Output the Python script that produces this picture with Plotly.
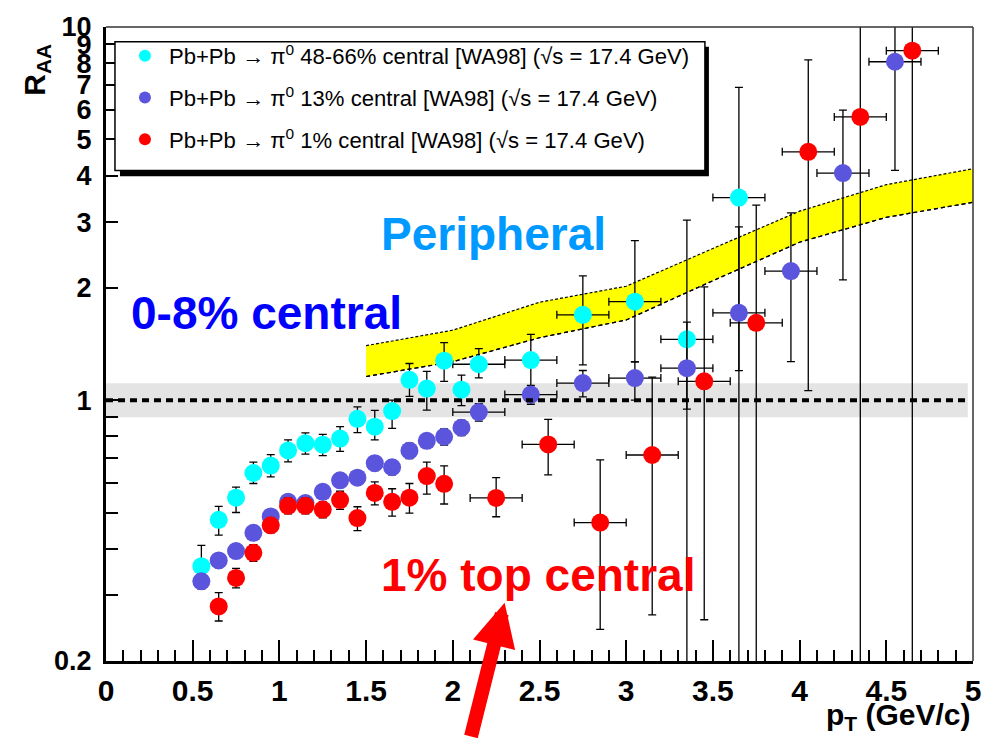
import plotly.graph_objects as go
import math

# ---------------- data ----------------
# 48-66% central (peripheral), cyan
cyan_x = [0.55, 0.65, 0.75, 0.85, 0.95, 1.05, 1.15, 1.25, 1.35, 1.45, 1.55, 1.65, 1.75, 1.85, 1.95, 2.05,
          2.15, 2.45, 2.75, 3.05, 3.35, 3.65]
cyan_y = [0.359, 0.478, 0.548, 0.638, 0.668, 0.733, 0.767, 0.760, 0.789, 0.891, 0.849, 0.935, 1.134, 1.074, 1.276, 1.067,
          1.248, 1.281, 1.693, 1.836, 1.456, 3.49]
cyan_ep = [0.049, 0.041, 0.037, 0.044, 0.047, 0.05, 0.05, 0.05, 0.06, 0.068, 0.09, 0.065, 0.12, 0.12, 0.15, 0.10,
           0.127, 0.22, 0.46, 0.84, 1.58, 3.40]
cyan_em = [0.040, 0.043, 0.048, 0.040, 0.045, 0.05, 0.05, 0.05, 0.06, 0.073, 0.066, 0.095, 0.11, 0.134, 0.153, 0.10,
           0.10, 0.25, 0.45, 0.57, 0.51, 2.29]
cyan_ex = [0]*16 + [0.15]*6

# 13% central, blue
blue_x = [0.55, 0.65, 0.75, 0.85, 0.95, 1.05, 1.15, 1.25, 1.35, 1.45, 1.55, 1.65, 1.75, 1.85, 1.95, 2.05,
          2.15, 2.45, 2.75, 3.05, 3.35, 3.65, 3.95, 4.25, 4.55]
blue_y = [0.327, 0.372, 0.394, 0.441, 0.488, 0.534, 0.530, 0.568, 0.610, 0.620, 0.678, 0.661, 0.732, 0.778, 0.798, 0.844,
          0.929, 1.035, 1.111, 1.146, 1.218, 1.714, 2.218, 4.06, 8.07]
blue_ep = [0.015, 0.016, 0.017, 0.018, 0.02, 0.02, 0.02, 0.022, 0.025, 0.025, 0.03, 0.03, 0.035, 0.035, 0.04, 0.04,
           0.05, 0.06, 0.09, 0.12, 0.40, 1.20, 0.96, 1.93, 12.0]
blue_em = [0.015, 0.016, 0.017, 0.018, 0.02, 0.02, 0.02, 0.022, 0.025, 0.025, 0.03, 0.03, 0.035, 0.035, 0.04, 0.04,
           0.05, 0.06, 0.09, 0.146, 1.118, 1.614, 0.95, 1.96, 3.94]
blue_ex = [0]*16 + [0.15]*9

# 1% central, red
red_x = [0.65, 0.75, 0.85, 0.95, 1.05, 1.15, 1.25, 1.35, 1.45, 1.55, 1.65, 1.75, 1.85, 1.95,
         2.25, 2.55, 2.85, 3.15, 3.45, 3.75, 4.05, 4.35, 4.65]
red_y = [0.280, 0.334, 0.390, 0.462, 0.521, 0.521, 0.509, 0.540, 0.483, 0.564, 0.534, 0.548, 0.626, 0.597,
         0.547, 0.761, 0.470, 0.713, 1.123, 1.612, 4.63, 5.74, 8.64]
red_ep = [0.025, 0.02, 0.02, 0.02, 0.025, 0.025, 0.025, 0.03, 0.035, 0.04, 0.045, 0.05, 0.056, 0.07,
          0.073, 0.127, 0.222, 0.44, 0.89, 1.72, 3.53, 14.0, 12.0]
red_em = [0.024, 0.02, 0.02, 0.02, 0.025, 0.025, 0.025, 0.03, 0.036, 0.04, 0.045, 0.05, 0.066, 0.07,
          0.06, 0.13, 0.227, 0.447, 0.865, 1.512, 3.57, 5.64, 8.54]
red_ex = [0]*14 + [0.15]*9

# theory band (yellow)
band_x = [1.5, 2.0, 2.5, 3.0, 3.5, 4.0, 4.5, 5.0]
band_lo = [1.157, 1.268, 1.47, 1.64, 2.09, 2.65, 3.09, 3.39]
band_hi = [1.40, 1.54, 1.83, 2.02, 2.55, 3.21, 3.78, 4.17]

# normalization uncertainty box around unity
ref_x = [0.0, 4.97]
ref_y = [1.0, 1.0]
norm_lo, norm_hi = 0.90, 1.11

y_tickvals = [0.2, 0.3, 0.4, 0.5, 0.6, 0.7, 0.8, 0.9, 1, 2, 3, 4, 5, 6, 7, 8, 9, 10]
y_ticktext = ["0.2", "", "", "", "", "", "", "", "1", "2", "3", "4", "5", "6", "7", "8", "9", "10"]

labels = ["Pb+Pb \u2192 \u03c0<sup>0</sup> 48-66% central [WA98] (\u221as = 17.4 GeV)",
          "Pb+Pb \u2192 \u03c0<sup>0</sup> 13% central [WA98] (\u221as = 17.4 GeV)",
          "Pb+Pb \u2192 \u03c0<sup>0</sup> 1% central [WA98] (\u221as = 17.4 GeV)"]

# ---------------- layout geometry (pixels) ----------------
W, H = 993, 738
L, R, T, B = 106, 17, 20, 77
PW, PH = W - L - R, H - T - B


def px(xp):
    return (xp - L) / PW


def py(yp):
    return (H - B - yp) / PH


FONT = "Liberation Sans, Arial, sans-serif"

fig = go.Figure()

# grey normalization band
fig.add_trace(go.Scatter(x=[ref_x[0], ref_x[1], ref_x[1], ref_x[0]],
                         y=[norm_lo, norm_lo, norm_hi, norm_hi],
                         fill="toself", fillcolor="#e4e4e4", line=dict(width=0),
                         mode="lines", showlegend=False, hoverinfo="skip"))

# yellow band
fig.add_trace(go.Scatter(x=band_x, y=band_lo, mode="lines",
                         line=dict(color="black", width=1.2, dash="4px,3px"),
                         showlegend=False, hoverinfo="skip"))
fig.add_trace(go.Scatter(x=band_x, y=band_hi, mode="lines", fill="tonexty", fillcolor="#ffff00",
                         line=dict(color="black", width=1.2, dash="3px,2px"),
                         showlegend=False, hoverinfo="skip"))
fig.add_trace(go.Scatter(x=band_x, y=band_lo, mode="lines",
                         line=dict(color="black", width=1.2, dash="4px,3px"),
                         showlegend=False, hoverinfo="skip"))

series = [
    (cyan_x, cyan_y, cyan_ep, cyan_em, cyan_ex, "#00ffff", labels[0]),
    (blue_x, blue_y, blue_ep, blue_em, blue_ex, "#5a55dc", labels[1]),
    (red_x, red_y, red_ep, red_em, red_ex, "#ff0000", labels[2]),
]
for i, (xs, ys, ep, em, ex, col, lab) in enumerate(series):
    fig.add_trace(go.Scatter(
        x=xs, y=ys, mode="markers", name=lab, legendgroup=f"g{i}",
        marker=dict(color=col, size=18, line=dict(width=0)),
        error_y=dict(type="data", symmetric=False, array=ep, arrayminus=em,
                     color="black", thickness=1.3, width=4),
        error_x=dict(type="data", array=ex, color="black", thickness=1.3, width=4),
    ))

# dashed line at unity
fig.add_trace(go.Scatter(x=ref_x, y=ref_y, mode="lines",
                         line=dict(color="black", width=4, dash="7px,5px"),
                         showlegend=False, hoverinfo="skip"))

fig.update_xaxes(range=[0, 5], showgrid=False, zeroline=False,
                 showline=True, linewidth=3, linecolor="black",
                 ticks="inside", ticklen=21, tickwidth=2, tickcolor="black",
                 tick0=0, dtick=0.5,
                 minor=dict(dtick=0.1, ticks="inside", ticklen=11, tickwidth=2, tickcolor="black"),
                 tickfont=dict(family=FONT, size=30, color="black", weight="bold"),
                 ticklabelstandoff=1)
fig.update_yaxes(type="log", range=[math.log10(0.2), 1.0], showgrid=False, zeroline=False,
                 showline=True, linewidth=3, linecolor="black",
                 ticks="inside", ticklen=12, tickwidth=2, tickcolor="black",
                 tickvals=y_tickvals, ticktext=y_ticktext,
                 tickfont=dict(family=FONT, size=27, color="black", weight="bold"),
                 ticklabelstandoff=6)

shapes = [
    # thin frame top / right
    dict(type="line", xref="paper", yref="paper", x0=0, x1=1, y0=1, y1=1, line=dict(color="#333", width=1.5)),
    dict(type="line", xref="paper", yref="paper", x0=1, x1=1, y0=0, y1=1, line=dict(color="#333", width=1.5)),
    # legend shadow and box
    dict(type="rect", xref="paper", yref="paper", x0=px(120), x1=px(711), y0=py(171), y1=py(40),
         fillcolor="black", line=dict(width=0), layer="above"),
    dict(type="rect", xref="paper", yref="paper", x0=px(115), x1=px(707), y0=py(165), y1=py(35),
         fillcolor="white", line=dict(color="black", width=1.5), layer="above"),
]

annotations = [
    dict(text="<b>R<sub>AA</sub></b>", xref="paper", yref="paper", x=px(36), y=py(63),
         xanchor="center", yanchor="middle", textangle=-90, showarrow=False,
         font=dict(family=FONT, size=30, color="black")),
    dict(text="<b>p<sub>T</sub> (GeV/c)</b>", xref="paper", yref="paper", x=px(976), y=py(717),
         xanchor="right", yanchor="middle", showarrow=False,
         font=dict(family=FONT, size=30, color="black")),
    dict(text="<b>Peripheral</b>", xref="paper", yref="paper", x=px(380), y=py(229),
         xanchor="left", yanchor="middle", showarrow=False,
         font=dict(family=FONT, size=46, color="#0099ff")),
    dict(text="<b>0-8% central</b>", xref="paper", yref="paper", x=px(129), y=py(309),
         xanchor="left", yanchor="middle", showarrow=False,
         font=dict(family=FONT, size=46, color="#0000ff")),
    dict(text="<b>1% top central</b>", xref="paper", yref="paper", x=px(380), y=py(574),
         xanchor="left", yanchor="middle", showarrow=False,
         font=dict(family=FONT, size=46, color="#ff0000")),
    dict(text="", xref="paper", yref="paper", x=px(506), y=py(602), showarrow=True,
         ax=-34, ay=150, arrowcolor="#ff0000", arrowwidth=14, arrowhead=2, arrowsize=0.62),
]

fig.update_layout(
    width=W, height=H,
    margin=dict(l=L, r=R, t=T, b=B),
    paper_bgcolor="white", plot_bgcolor="white",
    font=dict(family=FONT, color="black"),
    showlegend=True,
    legend=dict(x=px(121), y=py(28), xanchor="left", yanchor="top",
                bgcolor="rgba(0,0,0,0)", borderwidth=0,
                font=dict(family=FONT, size=22.1, color="black"),
                tracegroupgap=10, itemsizing="constant", itemwidth=38),
    shapes=shapes, annotations=annotations,
)

fig.write_html("out.html")
